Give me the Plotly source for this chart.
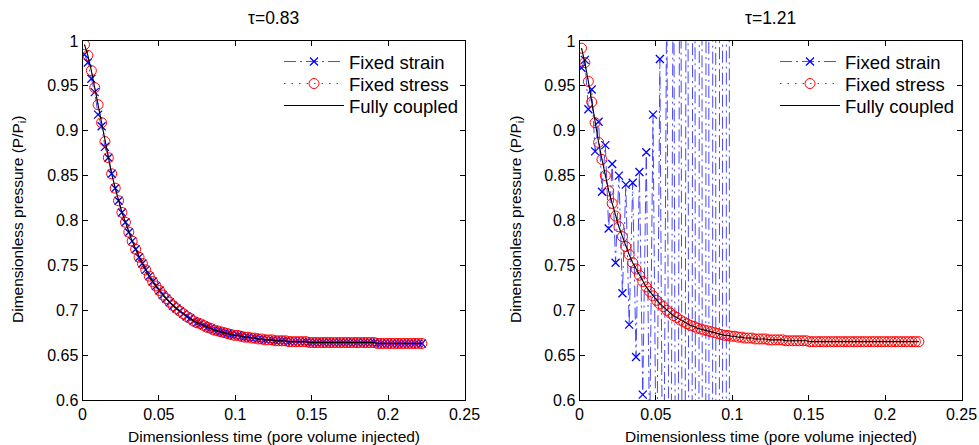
import plotly.graph_objects as go

# ---------------- data ----------------
time = [0.0013, 0.0035, 0.0058, 0.0080, 0.0102, 0.0125, 0.0147, 0.0169, 0.0191, 0.0214,
        0.0236, 0.0258, 0.0281, 0.0303, 0.0325, 0.0348, 0.0370, 0.0392, 0.0414, 0.0437,
        0.0459, 0.0481, 0.0504, 0.0526, 0.0548, 0.0571, 0.0593, 0.0615, 0.0637, 0.0660,
        0.0682, 0.0704, 0.0727, 0.0749, 0.0771, 0.0794, 0.0816, 0.0838, 0.0860, 0.0883,
        0.0905, 0.0927, 0.0950, 0.0972, 0.0994, 0.1017, 0.1039, 0.1061, 0.1083, 0.1106,
        0.1128, 0.1150, 0.1173, 0.1195, 0.1217, 0.1240, 0.1262, 0.1284, 0.1306, 0.1329,
        0.1351, 0.1373, 0.1396, 0.1418, 0.1440, 0.1463, 0.1485, 0.1507, 0.1529, 0.1552,
        0.1574, 0.1596, 0.1619, 0.1641, 0.1663, 0.1686, 0.1708, 0.1730, 0.1752, 0.1775,
        0.1797, 0.1819, 0.1842, 0.1864, 0.1886, 0.1909, 0.1931, 0.1953, 0.1975, 0.1998,
        0.2020, 0.2042, 0.2065, 0.2087, 0.2109, 0.2132, 0.2154, 0.2176, 0.2198, 0.2221]

left_stress = [0.996, 0.984, 0.967, 0.948, 0.929, 0.909, 0.888, 0.870, 0.852, 0.836,
               0.822, 0.809, 0.798, 0.787, 0.777, 0.768, 0.759, 0.752, 0.745, 0.738,
               0.732, 0.727, 0.722, 0.717, 0.713, 0.709, 0.705, 0.702, 0.699, 0.696,
               0.693, 0.691, 0.688, 0.686, 0.685, 0.683, 0.681, 0.680, 0.678, 0.677,
               0.676, 0.675, 0.674, 0.673, 0.672, 0.672, 0.671, 0.670, 0.670, 0.669,
               0.669, 0.668, 0.668, 0.667, 0.667, 0.667, 0.666, 0.666, 0.666, 0.666,
               0.665, 0.665, 0.665, 0.665, 0.665, 0.665, 0.664, 0.664, 0.664, 0.664,
               0.664, 0.664, 0.664, 0.664, 0.664, 0.664, 0.664, 0.664, 0.664, 0.664,
               0.664, 0.664, 0.664, 0.664, 0.664, 0.664, 0.663, 0.663, 0.663, 0.663,
               0.663, 0.663, 0.663, 0.663, 0.663, 0.663, 0.663, 0.663, 0.663, 0.663]

left_strain = [0.985, 0.976, 0.958, 0.943, 0.918, 0.905, 0.882, 0.870, 0.852, 0.836,
               0.822, 0.809, 0.798, 0.787, 0.777, 0.768, 0.759, 0.752, 0.745, 0.738,
               0.732, 0.727, 0.722, 0.717, 0.713, 0.709, 0.705, 0.702, 0.699, 0.696,
               0.693, 0.691, 0.688, 0.686, 0.685, 0.683, 0.681, 0.680, 0.678, 0.677,
               0.676, 0.675, 0.674, 0.673, 0.672, 0.672, 0.671, 0.670, 0.670, 0.669,
               0.669, 0.668, 0.668, 0.667, 0.667, 0.667, 0.666, 0.666, 0.666, 0.666,
               0.665, 0.665, 0.665, 0.665, 0.665, 0.665, 0.664, 0.664, 0.664, 0.664,
               0.664, 0.664, 0.664, 0.664, 0.664, 0.664, 0.664, 0.664, 0.664, 0.664,
               0.664, 0.664, 0.664, 0.664, 0.664, 0.664, 0.663, 0.663, 0.663, 0.663,
               0.663, 0.663, 0.663, 0.663, 0.663, 0.663, 0.663, 0.663, 0.663, 0.663]

left_coupled = list(left_stress)

right_stress = [0.992, 0.976, 0.955, 0.932, 0.909, 0.887, 0.868, 0.850, 0.833, 0.819,
                0.805, 0.793, 0.782, 0.771, 0.762, 0.753, 0.746, 0.739, 0.732, 0.726,
                0.721, 0.716, 0.711, 0.707, 0.704, 0.700, 0.697, 0.694, 0.692, 0.689,
                0.687, 0.685, 0.683, 0.682, 0.680, 0.679, 0.678, 0.677, 0.676, 0.675,
                0.674, 0.673, 0.672, 0.672, 0.671, 0.671, 0.670, 0.670, 0.669, 0.669,
                0.669, 0.668, 0.668, 0.668, 0.668, 0.667, 0.667, 0.667, 0.667, 0.667,
                0.666, 0.666, 0.666, 0.666, 0.666, 0.666, 0.666, 0.665, 0.665, 0.665,
                0.665, 0.665, 0.665, 0.665, 0.665, 0.665, 0.665, 0.665, 0.665, 0.665,
                0.665, 0.665, 0.665, 0.665, 0.665, 0.665, 0.665, 0.665, 0.665, 0.665,
                0.665, 0.665, 0.665, 0.665, 0.665, 0.665, 0.665, 0.665, 0.665, 0.665]

right_coupled = list(right_stress)

right_strain = [0.970, 0.979, 0.924, 0.946, 0.877, 0.910, 0.832, 0.884, 0.791, 0.863,
                0.753, 0.850, 0.719, 0.840, 0.684, 0.842, 0.648, 0.854, 0.606, 0.876,
                0.550, 0.918, 0.470, 0.980, 0.360, 1.070, 0.200, 1.200, -0.050, 1.400,
                -0.400, 1.750, -0.900, 2.300, -1.700, 3.100, -2.900, 4.400, -4.700, 6.300,
                -7.500, 9.200, -11.80, 13.60, -18.40]

x_ticks = [0, 0.05, 0.1, 0.15, 0.2, 0.25]
x_tick_labels = ["0", "0.05", "0.1", "0.15", "0.2", "0.25"]
y_ticks = [0.6, 0.65, 0.7, 0.75, 0.8, 0.85, 0.9, 0.95, 1.0]
y_tick_labels = ["0.6", "0.65", "0.7", "0.75", "0.8", "0.85", "0.9", "0.95", "1"]
panel_titles = ["τ=0.83", "τ=1.21"]
series_names = ["Fixed strain", "Fixed stress", "Fully coupled"]
x_title = "Dimensionless time (pore volume injected)"
y_title = "Dimensionless pressure (P/P<sub>i</sub>)"

# ---------------- figure ----------------
FONT = "Liberation Sans, Arial, sans-serif"
W, H = 979, 445
fig = go.Figure()

# one small legend per entry so the rows sit exactly where the reference has them
legend_left_px = [279, 775]     # legend box left edge per panel (px)
legend_rows_px = [62, 84, 106]  # row centres (px)

panels = [
    ("x", "y", time, left_strain, left_stress, left_coupled),
    ("x2", "y2", time[:len(right_strain)], right_strain, right_stress, right_coupled),
]
legend_layout = {}
n = 0
for p, (xa, ya, t_strain, strain, stress, coupled) in enumerate(panels):
    names = []
    for r in range(3):
        n += 1
        lname = "legend" if n == 1 else f"legend{n}"
        names.append(lname)
        legend_layout[lname] = dict(
            x=legend_left_px[p] / W, y=1 - legend_rows_px[r] / H,
            xanchor="left", yanchor="middle",
            bgcolor="rgba(0,0,0,0)", borderwidth=0,
            font=dict(family=FONT, size=18.5, color="black"),
            itemwidth=60, itemclick=False, itemdoubleclick=False,
        )
    fig.add_trace(go.Scatter(
        x=t_strain, y=strain, xaxis=xa, yaxis=ya, legend=names[0], name=series_names[0],
        mode="lines+markers",
        line=dict(color="#3333ff", width=0.9, dash="12px,4px,2px,4px"),
        marker=dict(symbol="x-thin", size=8, color="#0000ff",
                    line=dict(color="#0000ff", width=1.3)),
    ))
    fig.add_trace(go.Scatter(
        x=time, y=stress, xaxis=xa, yaxis=ya, legend=names[1], name=series_names[1],
        mode="lines+markers",
        line=dict(color="#ff0000", width=1, dash="1.5px,6px"),
        marker=dict(symbol="circle-open", size=10, color="#ff0000",
                    line=dict(color="#ff0000", width=1)),
    ))
    fig.add_trace(go.Scatter(
        x=time, y=coupled, xaxis=xa, yaxis=ya, legend=names[2], name=series_names[2],
        mode="lines", line=dict(color="#000000", width=1.1),
    ))

x_domains = [[82.5 / W, 464.5 / W], [579.5 / W, 961.5 / W]]
y_domain = [1 - 400 / H, 1 - 41 / H]

common_axis = dict(
    showline=True, linecolor="black", linewidth=1, mirror="ticks",
    ticks="inside", ticklen=5, tickcolor="black", tickwidth=1,
    showgrid=False, zeroline=False, automargin=False,
    tickfont=dict(family=FONT, size=16, color="black"),
)

fig.update_layout(
    xaxis=dict(domain=x_domains[0], range=[0, 0.25], anchor="y",
               tickvals=x_ticks, ticktext=x_tick_labels, **common_axis),
    yaxis=dict(domain=y_domain, range=[0.6, 1.0], anchor="x",
               tickvals=y_ticks, ticktext=y_tick_labels, **common_axis),
    xaxis2=dict(domain=x_domains[1], range=[0, 0.25], anchor="y2",
                tickvals=x_ticks, ticktext=x_tick_labels, **common_axis),
    yaxis2=dict(domain=y_domain, range=[0.6, 1.0], anchor="x2",
                tickvals=y_ticks, ticktext=y_tick_labels, **common_axis),
    **legend_layout,
)

annotations = []
for i, title in enumerate(panel_titles):
    cx = (x_domains[i][0] + x_domains[i][1]) / 2
    annotations.append(dict(
        text=title, x=cx, y=1 - 18 / H, xref="paper", yref="paper",
        xanchor="center", yanchor="middle", showarrow=False,
        font=dict(family=FONT, size=17.5, color="black"),
    ))
    annotations.append(dict(
        text=x_title, x=cx, y=1 - 436 / H, xref="paper", yref="paper",
        xanchor="center", yanchor="middle", showarrow=False,
        font=dict(family=FONT, size=15.5, color="black"),
    ))
    annotations.append(dict(
        text=y_title, x=(18 if i == 0 else 516) / W, y=1 - 220 / H,
        xref="paper", yref="paper", textangle=-90,
        xanchor="center", yanchor="middle", showarrow=False,
        font=dict(family=FONT, size=15.5, color="black"),
    ))

fig.update_layout(
    width=W, height=H,
    margin=dict(l=0, r=0, t=0, b=0, autoexpand=False),
    paper_bgcolor="white", plot_bgcolor="white",
    showlegend=True,
    annotations=annotations,
    font=dict(family=FONT, color="black"),
)

fig.write_html(
    "out.html",
    config={"displayModeBar": False},
    post_script="document.body.style.margin='0px';document.body.style.padding='0px';"
                "document.body.style.overflow='hidden';",
)
